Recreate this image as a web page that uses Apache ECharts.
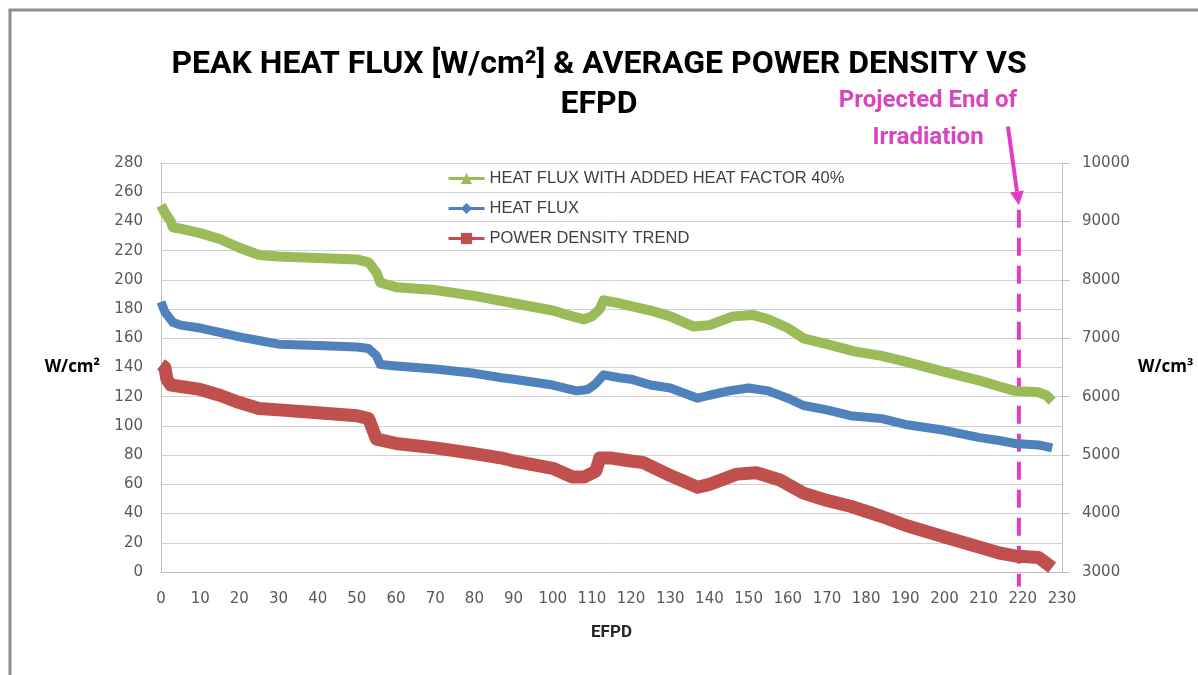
<!DOCTYPE html>
<html>
<head>
<meta charset="utf-8">
<script src="https://cdn.jsdelivr.net/npm/echarts@6/dist/echarts.min.js"></script>
<style>
  html, body { margin: 0; padding: 0; background: #fff; }
  #chart { width: 1198px; height: 675px; }
</style>
</head>
<body>
<div id="chart"></div>
<script>
// EFPD positions and values
var greenX = [0, 1, 2.5, 3, 5, 10, 15, 20, 25, 30, 40, 50, 53, 55, 56, 60, 70, 80, 90, 100, 105, 108, 110, 112, 113, 117, 120, 125, 130, 136, 140, 146, 151, 155, 160, 164, 170, 177, 184, 190, 200, 209, 214, 218, 224, 226, 227.5];
var greenY = [251, 246, 240, 236, 235, 232, 228, 222, 217, 216, 215, 214, 212, 205, 198, 195, 193, 189, 184, 179, 175, 173, 175, 180, 186, 184, 182, 179, 175, 168, 169, 175, 176, 173, 167, 160, 156, 151, 148, 144, 137, 131, 127, 124, 123, 121, 117];

var blueX = [0, 1, 3, 5, 10, 15, 20, 26, 30, 40, 50, 53, 55, 56, 60, 70, 80, 87, 90, 100, 106, 109, 111, 113, 117, 120, 125, 130, 137, 140, 145, 150, 155, 160, 164, 170, 176, 184, 190, 200, 209, 214, 218, 224, 227.5];
var blueY = [185, 178, 171, 169, 167, 164, 161, 158, 156, 155, 154, 153, 148, 142, 141, 139, 136, 133, 132, 128, 124, 125, 129, 135, 133, 132, 128, 126, 119, 121, 124, 126, 124, 119, 114, 111, 107, 105, 101, 97, 92, 90, 88, 87, 85];

// power density, W/cm3 (right axis)
var redX = [0, 1, 1.5, 2.5, 5, 10, 15, 20, 25, 30, 40, 50, 53, 54, 55, 60, 70, 80, 87, 90, 100, 105, 108, 111, 112, 115, 120, 123, 130, 137, 140, 147, 152, 158, 164, 170, 176, 184, 190, 200, 209, 214, 218, 224, 226, 227.5];
var redY = [6550, 6500, 6300, 6200, 6175, 6125, 6025, 5900, 5800, 5775, 5725, 5675, 5625, 5450, 5275, 5200, 5125, 5025, 4950, 4900, 4775, 4625, 4625, 4725, 4950, 4950, 4900, 4875, 4650, 4450, 4500, 4675, 4700, 4575, 4350, 4225, 4125, 3950, 3800, 3600, 3425, 3325, 3275, 3250, 3150, 3075];

var endOfIrradiation = 219;

function pairs(xs, ys) {
  var out = [];
  for (var i = 0; i < xs.length; i++) out.push([xs[i], ys[i]]);
  return out;
}

var chart = echarts.init(document.getElementById('chart'));
var pink = '#e23cc6';
var tickFont = 'DejaVu Sans';

chart.setOption({
  animation: false,
  title: {
    text: 'PEAK HEAT FLUX [W/cm\u00b2] & AVERAGE POWER DENSITY VS\nEFPD',
    left: 'center',
    top: 45,
    padding: 0,
    textStyle: {
      fontFamily: 'Roboto',
      fontWeight: 'bold',
      fontSize: 32,
      lineHeight: 40,
      color: '#000'
    }
  },
  grid: { left: 161, right: 136, top: 163, bottom: 103 },
  legend: {
    orient: 'vertical',
    left: 447,
    top: 170,
    padding: 0,
    itemWidth: 36,
    itemHeight: 14,
    itemGap: 13,
    lineStyle: { width: 3 },
    textStyle: { fontFamily: 'Liberation Sans', fontSize: 16.5, lineHeight: 16, color: '#404040' },
    data: ['HEAT FLUX WITH ADDED HEAT FACTOR 40%', 'HEAT FLUX', 'POWER DENSITY TREND']
  },
  xAxis: {
    type: 'value',
    min: 0,
    max: 230,
    interval: 10,
    name: 'EFPD',
    nameLocation: 'middle',
    nameGap: 52,
    nameTextStyle: { fontFamily: 'Roboto', fontWeight: 'bold', fontSize: 17, color: '#262626' },
    axisLine: { lineStyle: { color: '#bfbfbf' } },
    axisTick: { show: false },
    splitLine: { show: false },
    axisLabel: { margin: 20, fontFamily: tickFont, fontSize: 15, color: '#595959' }
  },
  yAxis: [
    {
      type: 'value',
      min: 0,
      max: 280,
      interval: 20,
      name: 'W/cm\u00b2',
      nameLocation: 'middle',
      nameRotate: 0,
      nameGap: 61,
      nameTextStyle: { fontFamily: 'Open Sans', fontWeight: 'bold', fontSize: 17, color: '#000' },
      axisLine: { show: true, lineStyle: { color: '#bfbfbf' } },
      axisTick: { show: false },
      splitLine: { lineStyle: { color: '#d0d0d0' } },
      axisLabel: { margin: 18, fontFamily: tickFont, fontSize: 15, color: '#595959' }
    },
    {
      type: 'value',
      min: 3000,
      max: 10000,
      interval: 1000,
      position: 'right',
      name: 'W/cm\u00b3',
      nameLocation: 'middle',
      nameRotate: 0,
      nameGap: 76,
      nameTextStyle: { fontFamily: 'Open Sans', fontWeight: 'bold', fontSize: 17, color: '#000' },
      axisLine: { show: true, lineStyle: { color: '#bfbfbf' } },
      axisTick: { show: true, length: 8, lineStyle: { color: '#bfbfbf' } },
      splitLine: { show: false },
      axisLabel: {
        margin: 20, fontFamily: tickFont, fontSize: 15, color: '#595959',
        formatter: function (v) { return String(v); }
      }
    }
  ],
  series: [
    {
      name: 'HEAT FLUX WITH ADDED HEAT FACTOR 40%',
      type: 'line',
      data: pairs(greenX, greenY),
      symbol: 'triangle',
      showSymbol: false,
      color: '#9bbb59',
      lineStyle: { width: 10, join: 'round' }
    },
    {
      name: 'HEAT FLUX',
      type: 'line',
      data: pairs(blueX, blueY),
      symbol: 'diamond',
      showSymbol: false,
      color: '#4f81bd',
      lineStyle: { width: 9, join: 'round' }
    },
    {
      name: 'POWER DENSITY TREND',
      type: 'line',
      yAxisIndex: 1,
      data: pairs(redX, redY),
      symbol: 'rect',
      showSymbol: false,
      color: '#c0504d',
      lineStyle: { width: 13, join: 'round' }
    }
  ]
});

// annotation: dashed end-of-irradiation line + arrow, placed through the axes
var ref = { xAxisIndex: 0, yAxisIndex: 0 };
var dashTop = chart.convertToPixel(ref, [endOfIrradiation, 248]);
var dashBot = chart.convertToPixel(ref, [endOfIrradiation, -10]);
var arrowTail = chart.convertToPixel(ref, [216.2, 305]);
var arrowTip = chart.convertToPixel(ref, [endOfIrradiation, 251]);
var dx = arrowTip[0] - arrowTail[0], dy = arrowTip[1] - arrowTail[1];
var len = Math.sqrt(dx * dx + dy * dy);
var ux = dx / len, uy = dy / len;
var headBase = [arrowTip[0] - ux * 14, arrowTip[1] - uy * 14];

chart.setOption({
  graphic: [
    {
      type: 'rect',
      z: -1,
      shape: { x: 10, y: 10, width: 1400, height: 900 },
      style: { fill: 'none', stroke: '#8c8c8c', lineWidth: 3 }
    },
    {
      type: 'line',
      shape: { x1: dashTop[0], y1: dashTop[1], x2: dashBot[0], y2: dashBot[1] },
      style: { stroke: pink, lineWidth: 4, lineDash: [18, 10] }
    },
    {
      type: 'line',
      shape: { x1: arrowTail[0], y1: arrowTail[1], x2: headBase[0], y2: headBase[1] },
      style: { stroke: pink, lineWidth: 4 }
    },
    {
      type: 'polygon',
      shape: {
        points: [
          arrowTip,
          [headBase[0] - uy * 7, headBase[1] + ux * 7],
          [headBase[0] + uy * 7, headBase[1] - ux * 7]
        ]
      },
      style: { fill: pink }
    },
    {
      type: 'text',
      style: {
        text: 'Projected End of\nIrradiation',
        x: 928,
        y: 82,
        textAlign: 'center',
        textVerticalAlign: 'top',
        font: 'bold 24px Roboto',
        lineHeight: 37,
        fill: '#d944c0'
      }
    }
  ]
});

window.onresize = function () {
  chart.resize();
};
</script>
</body>
</html>
